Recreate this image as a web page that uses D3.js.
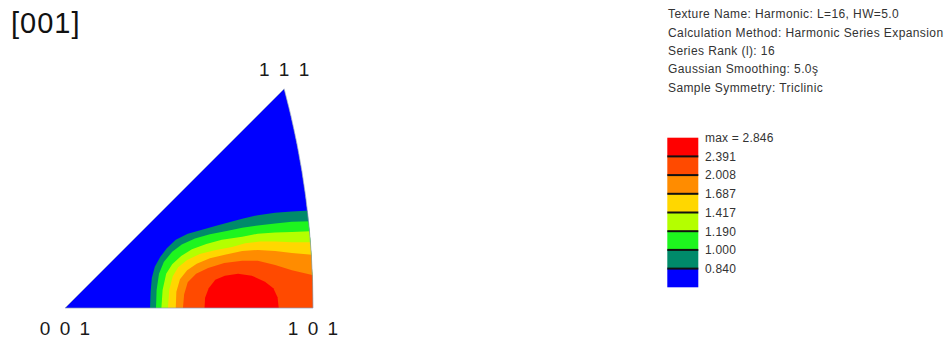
<!DOCTYPE html>
<html>
<head>
<meta charset="utf-8">
<script src="https://cdn.jsdelivr.net/npm/d3@7"></script>
<style>
  body { margin: 0; background: #fff; }
  svg { display: block; font-family: "Liberation Sans", Arial, sans-serif; }
</style>
</head>
<body>
<div id="chart"></div>
<script>
// ---- Data
const title = '[001]';
const poleLabels = ['0 0 1', '1 0 1', '1 1 1'];
const infoLines = [
    'Texture Name: Harmonic: L=16, HW=5.0',
    'Calculation Method: Harmonic Series Expansion',
    'Series Rank (l): 16',
    'Gaussian Smoothing: 5.0ş',
    'Sample Symmetry: Triclinic'
];
const levels = [0.840, 1.000, 1.190, 1.417, 1.687, 2.008, 2.391];
const maxValue = 2.846;
const bandColors = ['#0000ff', '#008a6a', '#1ef51e', '#b4ff00', '#ffd700', '#ff8c00', '#ff4a00', '#ff0000'];

// contour boundaries in stereographic units [u, v], one line per level
const contour0840 = [[0.142,0],[0.143,0.027],[0.145,0.050],[0.150,0.069],[0.159,0.085],[0.170,0.100],[0.185,0.114],[0.205,0.124],[0.226,0.130],[0.254,0.138],[0.296,0.149],[0.322,0.155],[0.351,0.159],[0.379,0.161],[0.409,0.163]];
const contour1000 = [[0.152,0],[0.153,0.030],[0.157,0.057],[0.165,0.077],[0.179,0.094],[0.195,0.106],[0.217,0.116],[0.242,0.123],[0.272,0.129],[0.296,0.134],[0.322,0.138],[0.351,0.141],[0.379,0.144],[0.409,0.145]];
const contour1190 = [[0.161,0],[0.163,0.030],[0.169,0.057],[0.179,0.073],[0.194,0.087],[0.212,0.098],[0.236,0.107],[0.262,0.114],[0.296,0.119],[0.322,0.124],[0.351,0.126],[0.379,0.127],[0.409,0.128]];
const contour1417 = [[0.172,0],[0.174,0.030],[0.180,0.053],[0.189,0.068],[0.204,0.080],[0.225,0.090],[0.252,0.097],[0.279,0.102],[0.301,0.108],[0.326,0.111],[0.351,0.111],[0.379,0.110],[0.411,0.110]];
const contour1687 = [[0.185,0],[0.186,0.027],[0.192,0.048],[0.204,0.063],[0.220,0.074],[0.242,0.083],[0.267,0.089],[0.296,0.095],[0.322,0.097],[0.351,0.095],[0.379,0.092],[0.413,0.089]];
const contour2008 = [[0.197,0],[0.199,0.023],[0.205,0.043],[0.219,0.057],[0.239,0.067],[0.266,0.075],[0.296,0.079],[0.322,0.079],[0.351,0.072],[0.379,0.063],[0.413,0.055]];
const contour2391 = [[0.233,0],[0.234,0.017],[0.240,0.033],[0.251,0.047],[0.267,0.054],[0.289,0.057],[0.312,0.054],[0.334,0.044],[0.348,0.033],[0.355,0.018],[0.357,0]];
const contours = [contour0840, contour1000, contour1190, contour1417, contour1687, contour2008, contour2391];

// ---- Canvas
const width = 946, height = 340;
const svg = d3.select('#chart').append('svg')
    .attr('width', width).attr('height', height);

// ---- Stereographic scales (same pixels per unit on both axes)
const p101 = Math.tan(Math.PI / 8);
const p111 = 1 / (Math.sqrt(3) + 1);
const x = d3.scaleLinear().domain([0, p101]).range([65, 313]);
const k = x(1) - x(0);
const y = d3.scaleLinear().domain([0, 1]).range([308, 308 - k]);

// ---- Triangle outline: two straight edges and the 101-111 great circle arc
const tri = d3.path();
tri.moveTo(x(0), y(0));
tri.lineTo(x(p101), y(0));
tri.arc(x(-1), y(0), x(p101) - x(-1), 0, -Math.atan2(p111, 1 + p111), true);
tri.closePath();

svg.append('clipPath').attr('id', 'ipfClip')
    .append('path').attr('d', tri.toString());

const ipf = svg.append('g').attr('clip-path', 'url(#ipfClip)');

ipf.append('path')
    .attr('d', tri.toString())
    .attr('fill', bandColors[0]);

// ---- Filled contour regions, lowest level first
const line = d3.line().x(d => x(d[0])).y(d => y(d[1]));
const closeRegion = pts => {
    const first = pts[0], last = pts[pts.length - 1];
    if (last[1] <= 0) return pts.concat([[last[0], -0.02], [first[0], -0.02]]);
    return pts.concat([[0.45, last[1]], [0.45, -0.02], [first[0], -0.02]]);
};

ipf.selectAll('.band')
    .data(contours)
    .join('path')
    .attr('class', 'band')
    .attr('d', d => line(closeRegion(d)) + 'Z')
    .attr('fill', (d, i) => bandColors[i + 1]);

svg.append('path')
    .attr('d', tri.toString())
    .attr('fill', 'none')
    .attr('stroke', '#8a9ab8')
    .attr('stroke-width', 0.7);

// ---- Pole labels
const poles = [[0, 0], [p101, 0], [p111, p111]];
svg.selectAll('.pole')
    .data(poleLabels)
    .join('text')
    .attr('class', 'pole')
    .attr('x', (d, i) => x(poles[i][0]) + 1)
    .attr('y', (d, i) => i < 2 ? y(poles[i][1]) + 27 : y(poles[i][1]) - 13)
    .attr('text-anchor', 'middle')
    .style('font-size', '19px')
    .style('letter-spacing', '2px')
    .style('fill', '#1a1a1a')
    .text(d => d);

// ---- Title
svg.append('text')
    .attr('x', 11).attr('y', 33)
    .style('font-size', '29px')
    .style('letter-spacing', '1px')
    .style('fill', '#111')
    .text(title);

// ---- Info block
svg.selectAll('.info')
    .data(infoLines)
    .join('text')
    .attr('class', 'info')
    .attr('x', 668)
    .attr('y', (d, i) => 18.3 + i * 18.35)
    .style('font-size', '12px')
    .style('letter-spacing', '0.4px')
    .style('fill', '#333')
    .text(d => d);

// ---- Legend
const legendY = d3.scaleLinear().domain([0, bandColors.length]).range([287.3, 137.7]);
const legend = svg.append('g');

legend.selectAll('rect')
    .data(bandColors)
    .join('rect')
    .attr('x', 667.3)
    .attr('width', 31)
    .attr('y', (d, i) => legendY(i + 1))
    .attr('height', (d, i) => legendY(i) - legendY(i + 1))
    .attr('fill', d => d);

legend.selectAll('line')
    .data(levels)
    .join('line')
    .attr('x1', 667.3).attr('x2', 698.3)
    .attr('y1', (d, i) => legendY(i + 1))
    .attr('y2', (d, i) => legendY(i + 1))
    .attr('stroke', '#111')
    .attr('stroke-width', 2);

const legendLabels = levels.map(v => v.toFixed(3)).concat(['max = ' + maxValue.toFixed(3)]);
legend.selectAll('text')
    .data(legendLabels)
    .join('text')
    .attr('x', 705)
    .attr('y', (d, i) => legendY(i + 1) + 4.3)
    .style('font-size', '12px')
    .style('letter-spacing', '0.2px')
    .style('fill', '#333')
    .text(d => d);
</script>
</body>
</html>
